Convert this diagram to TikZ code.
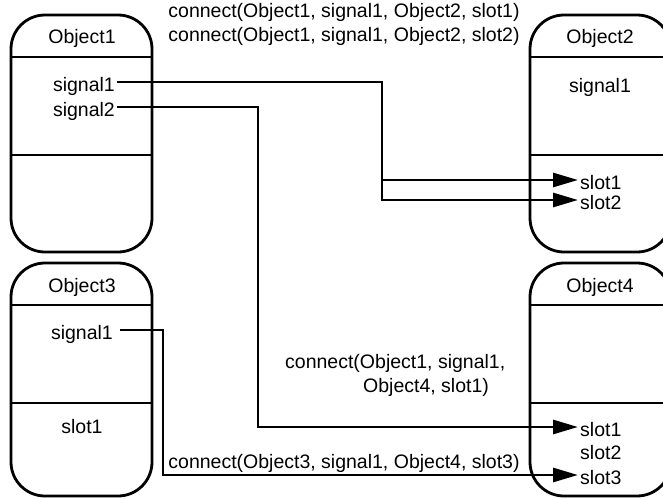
\documentclass[tikz,border=0pt]{standalone}
\usepackage{fontspec}
\setmainfont{Liberation Sans}
\usetikzlibrary{arrows.meta,positioning}

\tikzset{
  objbox/.style={line width=2.8pt, rounded corners=34pt},
  objsep/.style={line width=2.6pt},
  wire/.style={line width=2.8pt, -{Triangle[length=25pt,width=14pt]}},
  txt/.style={font=\fontsize{19.5}{23.5}\selectfont, inner sep=2pt, text height=18pt, text depth=0pt},
  lbl/.style={font=\fontsize{19.5}{23.5}\selectfont, inner sep=0pt},
}

\begin{document}
\begin{tikzpicture}[x=1pt,y=-1pt]
  \useasboundingbox (0,0) rectangle (663,498);
  \clip (0,0) rectangle (663,498);

  \draw[objbox] (11,15) rectangle (152,252);
  \draw[objsep] (11,57) -- (152,57) (11,155) -- (152,155);
  \draw[objbox] (530,15) rectangle (671,252);
  \draw[objsep] (530,57) -- (671,57) (530,155) -- (671,155);
  \draw[objbox] (11,263) rectangle (152,496);
  \draw[objsep] (11,305) -- (152,305) (11,403) -- (152,403);
  \draw[objbox] (530,263) rectangle (671,496);
  \draw[objsep] (530,305) -- (671,305) (530,403) -- (671,403);

  \node[txt] (obj1) at (82,34) {Object1};
  \node[txt, anchor=east] (o1sig1) at (117,82) {signal1};
  \node[txt, anchor=east] (o1sig2) at (117,107) {signal2};

  \node[txt] (obj2) at (600,34) {Object2};
  \node[txt] (o2sig1) at (600,83) {signal1};
  \node[txt, anchor=west] (o2slot1) at (578,180) {slot1};
  \node[txt, anchor=west] (o2slot2) at (578,200) {slot2};

  \node[txt] (obj3) at (82,283) {Object3};
  \node[txt, anchor=east, inner xsep=7pt] (o3sig1) at (120,330) {signal1};
  \node[txt] (o3slot1) at (82,424) {slot1};

  \node[txt] (obj4) at (600,283) {Object4};
  \node[txt, anchor=west] (o4slot1) at (578,427) {slot1};
  \node[txt, anchor=west] (o4slot2) at (578,450) {slot2};
  \node[txt, anchor=west] (o4slot3) at (578,475) {slot3};

  \node[lbl, align=center, anchor=base] (con12) at (344,41)
    {connect(Object1, signal1, Object2, slot1)\\connect(Object1, signal1, Object2, slot2)};
  \node[lbl, align=left, anchor=base west] (con14) at (285,392)
    {connect(Object1, signal1,\\\hspace*{78pt}Object4, slot1)};
  \node[lbl, anchor=base] (con34) at (344,468) {connect(Object3, signal1, Object4, slot3)};

  \coordinate (bus1) at (382,0);
  \coordinate (bus2) at (258,0);
  \coordinate (bus3) at (163,0);

  \draw[wire] (o1sig1.east) -- (o1sig1.east -| bus1) |- (o2slot1.west);
  \draw[wire] (o1sig1.east) -- (o1sig1.east -| bus1) |- (o2slot2.west);
  \draw[wire] (o1sig2.east) -- (o1sig2.east -| bus2) |- (o4slot1.west);
  \draw[wire] (o3sig1.east) -- (o3sig1.east -| bus3) |- (o4slot3.west);
\end{tikzpicture}
\end{document}
